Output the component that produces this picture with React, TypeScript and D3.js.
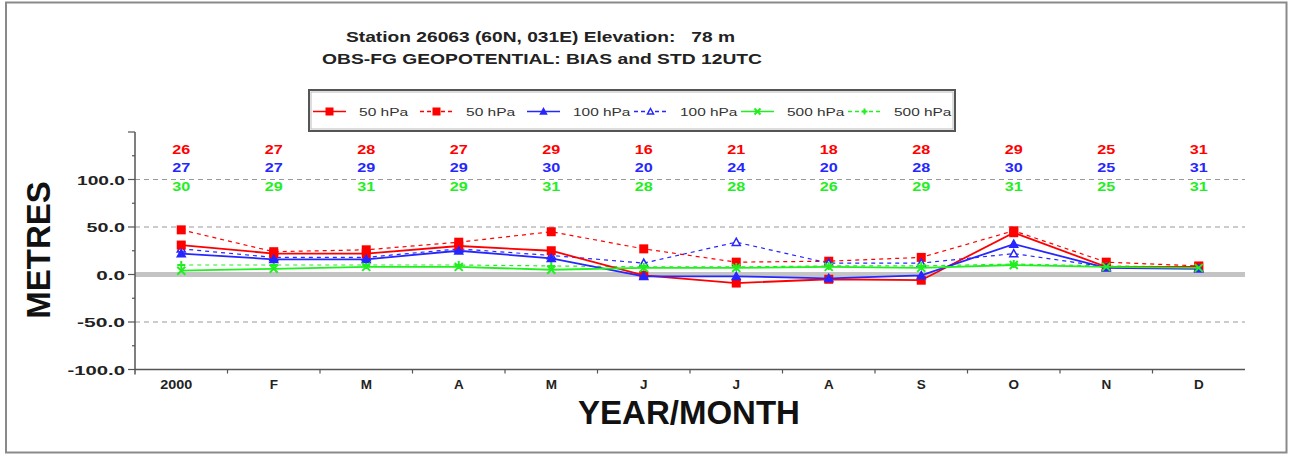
import React from 'react'
import * as d3 from 'd3'

const months = ['2000', 'F', 'M', 'A', 'M', 'J', 'J', 'A', 'S', 'O', 'N', 'D']

// bias (solid) and std (dashed) per level
const bias50 = [31, 22, 22, 30, 25, -1, -9, -5, -6, 44, 8, 8]
const std50 = [47, 24, 26, 34, 45, 27, 13, 14, 18, 46, 13, 9]
const bias100 = [22, 16, 16, 25, 17, -2, -2, -4, -1, 32, 7, 6]
const std100 = [27, 18, 18, 27, 20, 12, 34, 12, 12, 22, 8, 7]
const bias500 = [4, 6, 8, 8, 5, 7, 7, 8, 7, 10, 8, 7]
const std500 = [10, 10, 10, 10, 9, 8, 8, 9, 9, 11, 9, 8]

const count50 = [26, 27, 28, 27, 29, 16, 21, 18, 28, 29, 25, 31]
const count100 = [27, 27, 29, 29, 30, 20, 24, 20, 28, 30, 25, 31]
const count500 = [30, 29, 31, 29, 31, 28, 28, 26, 29, 31, 25, 31]

const yTicks = [-100, -50, 0, 50, 100]

const RED = '#ff0000'
const BLUE = '#2626ff'
const GREEN = '#22ee22'

type Marker = 'square' | 'tri' | 'otri' | 'x' | 'plus'

const series: { name: string; values: number[]; color: string; dashed: boolean; marker: Marker }[] = [
  { name: '50 hPa', values: bias50, color: RED, dashed: false, marker: 'square' },
  { name: '50 hPa', values: std50, color: RED, dashed: true, marker: 'square' },
  { name: '100 hPa', values: bias100, color: BLUE, dashed: false, marker: 'tri' },
  { name: '100 hPa', values: std100, color: BLUE, dashed: true, marker: 'otri' },
  { name: '500 hPa', values: bias500, color: GREEN, dashed: false, marker: 'x' },
  { name: '500 hPa', values: std500, color: GREEN, dashed: true, marker: 'plus' },
]

function MarkerShape({ kind, cx, cy, color, s = 4 }: { kind: Marker; cx: number; cy: number; color: string; s?: number }) {
  if (kind === 'square')
    return <rect x={cx - s} y={cy - s} width={s * 2} height={s * 2} fill={color} />
  if (kind === 'tri' || kind === 'otri')
    return (
      <path
        d={`M${cx},${cy - s}L${cx + s},${cy + s * 0.8}L${cx - s},${cy + s * 0.8}Z`}
        fill={kind === 'tri' ? color : 'white'}
        stroke={color}
        strokeWidth={1.5}
      />
    )
  if (kind === 'x')
    return (
      <path d={`M${cx - s},${cy - s}L${cx + s},${cy + s}M${cx + s},${cy - s}L${cx - s},${cy + s}`} stroke={color} strokeWidth={2} />
    )
  return <path d={`M${cx - s},${cy}L${cx + s},${cy}M${cx},${cy - s}L${cx},${cy + s}`} stroke={color} strokeWidth={2} />
}

export default function App() {
  const width = 1289
  const height = 455
  const left = 135
  const right = 1245
  const top = 132
  const bottom = 369.5

  const x = d3.scaleBand<number>().domain(d3.range(months.length)).range([left, right])
  const y = d3.scaleLinear().domain([-100, 150]).range([bottom, top])
  const cx = (i: number) => (x(i) as number) + x.bandwidth() / 2

  const line = d3
    .line<number>()
    .x((_, i) => cx(i))
    .y((d) => y(d))

  const legendX = [313, 420, 527, 634, 741, 848]
  const font = 'Liberation Sans, Arial, sans-serif'

  return (
    <svg width={width} height={height} style={{ position: 'absolute', left: 0, top: 0, fontFamily: font }}>
      <rect x={0} y={0} width={width} height={height} fill="white" />
      {/* frame */}
      <rect x={6} y={2.5} width={1280.5} height={450} fill="none" stroke="#8a8a8a" strokeWidth={2} />

      {/* title */}
      <text x={346} y={42} textLength={389} lengthAdjust="spacingAndGlyphs" fontSize={15.5} fontWeight={600} fill="#222" style={{ whiteSpace: 'pre' }}>
        {'Station 26063 (60N, 031E) Elevation:   78 m'}
      </text>
      <text x={322} y={64} textLength={440} lengthAdjust="spacingAndGlyphs" fontSize={15.5} fontWeight={600} fill="#222">
        OBS-FG GEOPOTENTIAL: BIAS and STD 12UTC
      </text>

      {/* legend */}
      <rect x={309} y={90} width={646} height={41} fill="white" stroke="#555" strokeWidth={2} />
      <rect x={311} y={92} width={642} height={37} fill="none" stroke="#bbb" strokeWidth={1} />
      {series.map((s, i) => (
        <g key={i}>
          <line
            x1={legendX[i]}
            x2={legendX[i] + 33}
            y1={111.5}
            y2={111.5}
            stroke={s.color}
            strokeWidth={1.3}
            strokeDasharray={s.dashed ? '4,3' : undefined}
          />
          <MarkerShape kind={s.marker} cx={legendX[i] + 16.5} cy={111.5} color={s.color} s={s.marker === 'square' ? 4 : 3} />
          <text
            x={legendX[i] + 46}
            y={115.5}
            fontSize={11}
            fill="#333"
            textLength={s.name.length * 8.2}
            lengthAdjust="spacingAndGlyphs"
          >
            {s.name}
          </text>
        </g>
      ))}

      {/* grid */}
      {[100, 50, -50].map((v) => (
        <line key={v} x1={left} x2={right} y1={y(v)} y2={y(v)} stroke="#999" strokeWidth={1} strokeDasharray="5,4" />
      ))}
      <line x1={left} x2={right} y1={y(0)} y2={y(0)} stroke="#c4c4c4" strokeWidth={5} />

      {/* y axis */}
      <line x1={left} x2={left} y1={top} y2={bottom + 5} stroke="#555" strokeWidth={1.5} />
      {d3.range(-100, 151, 25).map((v) => (
        <line key={v} x1={v % 50 === 0 ? left - 7 : left - 3} x2={left} y1={y(v)} y2={y(v)} stroke="#555" strokeWidth={1.2} />
      ))}
      {yTicks.map((v) => {
        const label = v.toFixed(1)
        return (
          <text
            key={v}
            x={left - 10 - label.length * 9.6}
            y={y(v) + 5}
            fontSize={13.5}
            fontWeight="bold"
            fill="#222"
            textLength={label.length * 9.6}
            lengthAdjust="spacingAndGlyphs"
          >
            {label}
          </text>
        )
      })}
      <text
        transform={`translate(50,${250}) rotate(-90)`}
        textAnchor="middle"
        fontSize={33}
        fontWeight="bold"
        fill="#111"
      >
        METRES
      </text>

      {/* x axis */}
      <line x1={left} x2={right} y1={bottom} y2={bottom} stroke="#555" strokeWidth={1.5} />
      {d3.range(1, months.length).map((i) => (
        <line key={i} x1={x(i) as number} x2={x(i) as number} y1={bottom} y2={bottom + 4} stroke="#555" strokeWidth={1.2} />
      ))}
      {months.map((m, i) => (
        <text
          key={i}
          x={cx(i) - (i === 0 ? 5 : 0)}
          y={bottom + 19}
          textAnchor="middle"
          fontSize={13.5}
          fontWeight="bold"
          fill="#222"
          textLength={i === 0 ? 32 : undefined}
          lengthAdjust="spacingAndGlyphs"
        >
          {m}
        </text>
      ))}
      <text x={689} y={424} textAnchor="middle" fontSize={33} fontWeight="bold" fill="#111">
        YEAR/MONTH
      </text>

      {/* counts */}
      {[
        { vals: count50, color: RED, yy: 153.5 },
        { vals: count100, color: BLUE, yy: 172 },
        { vals: count500, color: GREEN, yy: 190.5 },
      ].map((row, r) =>
        row.vals.map((v, i) => (
          <text
            key={`${r}-${i}`}
            x={cx(i) - 9}
            y={row.yy}
            fontSize={13.5}
            fontWeight="bold"
            fill={row.color}
            textLength={18}
            lengthAdjust="spacingAndGlyphs"
          >
            {v}
          </text>
        ))
      )}

      {/* series: dashed first, solid on top */}
      {[...series].sort((a, b) => Number(b.dashed) - Number(a.dashed)).map((s, k) => (
        <g key={k}>
          <path
            d={line(s.values) ?? ''}
            fill="none"
            stroke={s.color}
            strokeWidth={s.dashed ? 1.2 : 1.8}
            strokeDasharray={s.dashed ? '4,4' : undefined}
          />
          {s.values.map((v, i) => (
            <MarkerShape key={i} kind={s.marker} cx={cx(i)} cy={y(v)} color={s.color} s={s.marker === 'square' ? 4.5 : 4} />
          ))}
        </g>
      ))}
    </svg>
  )
}
